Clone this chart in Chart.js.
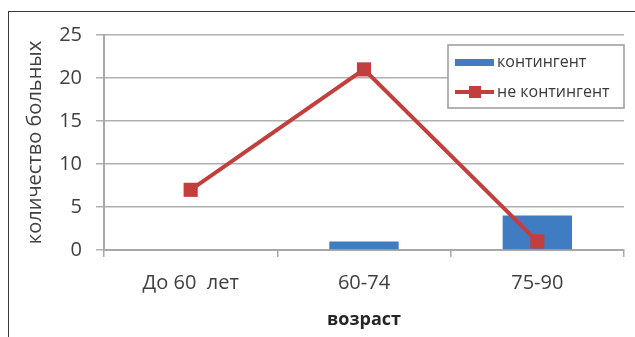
<!DOCTYPE html>
<html>
<head>
<meta charset="utf-8">
<script src="https://cdn.jsdelivr.net/npm/chart.js@4"></script>
<style>
  html, body { margin: 0; padding: 0; background: #fff; }
  #wrap { position: relative; width: 635px; height: 337px; overflow: hidden; }
  #frame { position: absolute; left: 8px; top: 11px; width: 700px; height: 400px;
           border-left: 1.5px solid #3a3a3a; border-top: 1.5px solid #3a3a3a; }
  canvas { position: absolute; left: 0; top: 0; }
</style>
</head>
<body>
<div id="wrap">
  <div id="frame"></div>
  <canvas id="chart" width="635" height="337"></canvas>
</div>
<script>
// данные
const categories = ["До 60  лет", "60-74", "75-90"];
const contingent = [0, 1, 4];
const notContingent = [7, 21, 1];
const yTicks = [0, 5, 10, 15, 20, 25];

const blue = "#3f7cc2";
const red = "#c33f3d";
const font = "'Open Sans', sans-serif";

// легенда внутри области графика
const boxLegend = {
  id: "boxLegend",
  afterDraw(chart) {
    const ctx = chart.ctx;
    const area = chart.chartArea;
    const x0 = 448, y0 = 45, w = area.right - x0, h = 63;
    ctx.save();
    ctx.fillStyle = "#fff";
    ctx.fillRect(x0, y0, w, h);
    ctx.strokeStyle = "#9a9a9a";
    ctx.lineWidth = 1.5;
    ctx.strokeRect(x0, y0, w, h);

    const ds = chart.data.datasets;
    ctx.font = "16px " + font;
    ctx.textBaseline = "middle";

    // бар
    ctx.fillStyle = ds[0].backgroundColor;
    ctx.fillRect(455, 59, 39, 7);
    ctx.fillStyle = "#3a3a3a";
    ctx.fillText(ds[0].label, 497, 62);

    // линия
    ctx.strokeStyle = ds[1].borderColor;
    ctx.lineWidth = 4;
    ctx.beginPath();
    ctx.moveTo(455, 92);
    ctx.lineTo(494, 92);
    ctx.stroke();
    ctx.fillStyle = ds[1].borderColor;
    ctx.fillRect(469, 86, 12, 12);
    ctx.fillStyle = "#3a3a3a";
    ctx.fillText(ds[1].label, 497, 92);
    ctx.restore();
  }
};

const ctx = document.getElementById("chart").getContext("2d");
const chart = new Chart(ctx, {
  type: "bar",
  data: {
    labels: categories,
    datasets: [
      {
        label: "контингент",
        data: contingent,
        backgroundColor: blue,
        barPercentage: 0.4,
        categoryPercentage: 1,
        order: 2
      },
      {
        type: "line",
        label: "не контингент",
        data: notContingent,
        borderColor: red,
        backgroundColor: red,
        borderWidth: 4,
        pointStyle: "rect",
        pointRadius: 10,
        pointBorderWidth: 0,
        pointBackgroundColor: red,
        tension: 0,
        order: 1
      }
    ]
  },
  options: {
    responsive: false,
    animation: false,
    layout: { padding: { left: 8, top: 35, right: 11, bottom: 6 } },
    plugins: {
      legend: { display: false },
      tooltip: { enabled: false }
    },
    scales: {
      x: {
        grid: { drawOnChartArea: false, tickLength: 7, color: "#a8a8a8", lineWidth: 1.5, offset: true },
        border: { color: "#a8a8a8", width: 2 },
        ticks: { color: "#404040", font: { family: font, size: 20 }, padding: 14 },
        title: { display: true, text: "возраст", color: "#262626",
                 font: { family: font, size: 18, weight: "bold" }, padding: { top: 4, bottom: 0 } },
        afterFit(scale) { scale.height = 337 - 250 - 6; }
      },
      y: {
        min: 0,
        max: 25,
        afterBuildTicks(scale) { scale.ticks = yTicks.map(v => ({ value: v })); },
        grid: { color: "#b0b0b0", lineWidth: 1.5, tickLength: 8 },
        border: { color: "#a8a8a8", width: 2 },
        ticks: { color: "#404040", font: { family: font, size: 20 }, padding: 14 },
        title: { display: true, text: "количество больных", color: "#404040",
                 font: { family: font, size: 20 }, padding: { top: 15, bottom: 0 } },
        afterFit(scale) { scale.width = 104 - 8; }
      }
    }
  },
  plugins: [boxLegend]
});
</script>
</body>
</html>
